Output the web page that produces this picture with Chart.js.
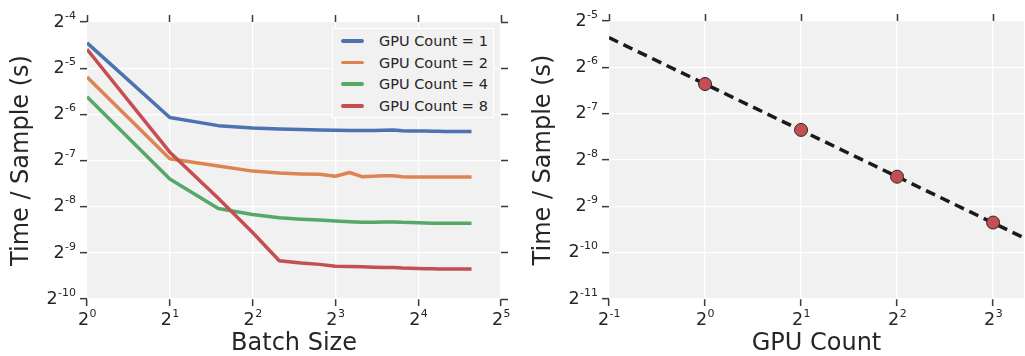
<!DOCTYPE html>
<html>
<head>
<meta charset="utf-8">
<script src="https://cdn.jsdelivr.net/npm/chart.js@4.4.0/dist/chart.umd.min.js"></script>
<style>
  html, body { margin: 0; padding: 0; background: #fff; }
  #wrap { position: relative; width: 1025px; height: 356px; overflow: hidden; font-family: "DejaVu Sans", sans-serif; }
  canvas { position: absolute; top: 0; }
  #left-chart { left: 0; }
  #right-chart { left: 512px; }
  #legend { position: absolute; left: 332px; top: 28px; width: 160px; height: 88px; background: #f1f1f1; border: 1px solid #fff; }
  #legend .row { position: absolute; left: 0; height: 20px; width: 160px; }
  #legend .swatch { position: absolute; left: 8px; top: 8px; width: 23px; height: 3.5px; border-radius: 2px; }
  #legend .label { position: absolute; left: 46px; top: 0; line-height: 20px; font-size: 14.5px; color: #262626; white-space: nowrap; }
</style>
</head>
<body>
<div id="wrap">
  <canvas id="left-chart" width="512" height="356"></canvas>
  <canvas id="right-chart" width="513" height="356"></canvas>
  <div id="legend"></div>
</div>
<script>
// left panel: time per sample vs batch size
var batchSizes = [1, 2, 3, 4, 5, 6, 7, 8, 9, 10, 11, 12, 13, 14, 15, 16, 17, 18, 19, 20, 21, 22, 23, 24, 25];
var gpu1Times = [0.04575, 0.014885, 0.013184, 0.012735, 0.012517, 0.012430, 0.012344, 0.012302, 0.012259, 0.012259,
  0.012259, 0.012302, 0.012344, 0.012217, 0.012174, 0.012174, 0.012174, 0.012132, 0.012132, 0.012090,
  0.012090, 0.012090, 0.012090, 0.012090, 0.012090];
var gpu2Times = [0.027394, 0.0080322, 0.0071889, 0.0066612, 0.0064790, 0.0063898, 0.0063457, 0.0061723, 0.0065241, 0.0061295,
  0.0061723, 0.0062152, 0.0062152, 0.0061295, 0.0061084, 0.0061084, 0.0060872, 0.0060872, 0.0060872, 0.0060872,
  0.0060872, 0.0060872, 0.0060872, 0.0060872, 0.0060872];
var gpu4Times = [0.020333, 0.0059208, 0.0037994, 0.0034720, 0.0033072, 0.0032395, 0.0031949, 0.0031509, 0.0031184, 0.0030968,
  0.0030968, 0.0031076, 0.0031076, 0.0030861, 0.0030755, 0.0030648, 0.0030542, 0.0030436, 0.0030436, 0.0030436,
  0.0030436, 0.0030436, 0.0030436, 0.0030436, 0.0030436];
var gpu8Times = [0.041521, 0.0088508, 0.0044254, 0.0026496, 0.0017360, 0.0016769, 0.0016424, 0.0015975, 0.0015919, 0.0015864,
  0.0015755, 0.0015700, 0.0015646, 0.0015538, 0.0015484, 0.0015431, 0.0015377, 0.0015377, 0.0015324, 0.0015324,
  0.0015324, 0.0015324, 0.0015324, 0.0015324, 0.0015324];
var seriesLabels = ["GPU Count = 1", "GPU Count = 2", "GPU Count = 4", "GPU Count = 8"];

var batchTicks = [1, 2, 4, 8, 16, 32];
var batchTickLabels = ["2^0", "2^1", "2^2", "2^3", "2^4", "2^5"];
var leftTimeTicks = [0.0009765625, 0.001953125, 0.00390625, 0.0078125, 0.015625, 0.03125, 0.0625];
var leftTimeTickLabels = ["2^-10", "2^-9", "2^-8", "2^-7", "2^-6", "2^-5", "2^-4"];

// right panel: time per sample vs GPU count (largest batch)
var gpuCounts = [1, 2, 4, 8];
var gpuTimes = [0.012174, 0.0061295, 0.0030436, 0.0015324];
var idealCounts = [0.5, 10];
var idealTimes = [0.024349, 0.0012191];

var gpuTicks = [0.5, 1, 2, 4, 8];
var gpuTickLabels = ["2^-1", "2^0", "2^1", "2^2", "2^3"];
var rightTimeTicks = [0.00048828125, 0.0009765625, 0.001953125, 0.00390625, 0.0078125, 0.015625, 0.03125];
var rightTimeTickLabels = ["2^-11", "2^-10", "2^-9", "2^-8", "2^-7", "2^-6", "2^-5"];

var titleFont = { family: "DejaVu Sans", size: 24, lineHeight: 1 };
var baseFont = "17.5px 'DejaVu Sans'";
var supFont = "11px 'DejaVu Sans'";
var textColor = "#262626";
var tickMarkColor = "#3a3a3a";

var areaBg = {
  id: "areaBg",
  beforeDraw: function (chart) {
    var a = chart.chartArea;
    var ctx = chart.ctx;
    ctx.save();
    ctx.fillStyle = "#f1f1f1";
    ctx.fillRect(a.left, a.top, a.right - a.left, a.bottom - a.top);
    ctx.restore();
  },
};

// tick labels as base + raised exponent, like matplotlib mathtext
function powerLabels(axes) {
  return {
    id: "powerLabels",
    afterDraw: function (chart) {
      var ctx = chart.ctx;
      ctx.save();
      ctx.fillStyle = textColor;
      ctx.textBaseline = "alphabetic";
      ctx.textAlign = "left";
      axes.forEach(function (ax) {
        var scale = chart.scales[ax.id];
        ax.values.forEach(function (v, i) {
          var parts = ax.labels[i].split("^");
          ctx.font = baseFont;
          var wb = ctx.measureText(parts[0]).width;
          ctx.font = supFont;
          var ws = ctx.measureText(parts[1]).width;
          var p = scale.getPixelForValue(v);
          var x0, y;
          if (scale.isHorizontal()) {
            x0 = p - (wb + ws) / 2;
            y = scale.top + 26;
          } else {
            x0 = scale.right - 11.5 - wb - ws;
            y = p + 4.7;
          }
          ctx.font = baseFont;
          ctx.fillText(parts[0], x0, y);
          ctx.font = supFont;
          ctx.fillText(parts[1], x0 + wb + 0.5, y - 8);
        });
      });
      ctx.restore();
    },
  };
}

function fixSize(size) {
  return function (scale) {
    if (scale.isHorizontal()) scale.height = size;
    else scale.width = size;
    scale.paddingLeft = 0;
    scale.paddingRight = 0;
    scale.paddingTop = 0;
    scale.paddingBottom = 0;
  };
}

function setTicks(values) {
  return function (scale) {
    scale.ticks = values.map(function (v) { return { value: v }; });
  };
}

function mainAxis(position, min, max, tickValues, size, title, titlePad) {
  return {
    type: "logarithmic",
    position: position,
    min: min,
    max: max,
    bounds: "data",
    afterBuildTicks: setTicks(tickValues),
    afterFit: fixSize(size),
    ticks: { display: false },
    grid: { color: "#ffffff", lineWidth: 1.3, tickColor: tickMarkColor, tickWidth: 1.5, tickLength: 7 },
    border: { display: false },
    title: { display: true, text: title, font: titleFont, color: textColor, padding: titlePad },
  };
}

function tickOnlyAxis(axis, position, min, max, tickValues, size) {
  return {
    type: "logarithmic",
    axis: axis,
    position: position,
    min: min,
    max: max,
    bounds: "data",
    afterBuildTicks: setTicks(tickValues),
    afterFit: fixSize(size),
    ticks: { display: false },
    grid: { drawOnChartArea: false, tickColor: tickMarkColor, tickWidth: 1.5, tickLength: 7 },
    border: { display: false },
  };
}

function toPoints(xs, ys) {
  return xs.map(function (x, i) { return { x: x, y: ys[i] }; });
}

var lineColors = ["#4C72B0", "#DD8452", "#55A868", "#C44E52"];
var leftSeries = [gpu1Times, gpu2Times, gpu4Times, gpu8Times];

var leftChart = new Chart(document.getElementById("left-chart").getContext("2d"), {
  type: "line",
  data: {
    datasets: leftSeries.map(function (ys, i) {
      return {
        label: seriesLabels[i],
        data: toPoints(batchSizes, ys),
        borderColor: lineColors[i],
        borderWidth: 3.5,
        pointRadius: 0,
        tension: 0,
        fill: false,
        borderJoinStyle: "round",
        order: 4 - i,
      };
    }),
  },
  options: {
    responsive: false,
    animation: false,
    layout: { padding: 0, autoPadding: false },
    plugins: { legend: { display: false }, tooltip: { enabled: false } },
    scales: {
      x: mainAxis("bottom", 1, 32, batchTicks, 57, "Batch Size", { top: 0, bottom: 0 }),
      y: mainAxis("left", leftTimeTicks[0], leftTimeTicks[6], leftTimeTicks, 87, "Time / Sample (s)", { top: 10, bottom: 0 }),
      xTop: tickOnlyAxis("x", "top", 1, 32, batchTicks, 22),
      yRight: tickOnlyAxis("y", "right", leftTimeTicks[0], leftTimeTicks[6], leftTimeTicks, 11),
    },
  },
  plugins: [
    areaBg,
    powerLabels([
      { id: "x", values: batchTicks, labels: batchTickLabels },
      { id: "y", values: leftTimeTicks, labels: leftTimeTickLabels },
    ]),
  ],
});

var rightChart = new Chart(document.getElementById("right-chart").getContext("2d"), {
  type: "line",
  data: {
    datasets: [
      {
        label: "Measured",
        data: toPoints(gpuCounts, gpuTimes),
        showLine: false,
        pointRadius: 6.5,
        pointBackgroundColor: "#C44E52",
        pointBorderColor: "#2a2a2a",
        pointBorderWidth: 1,
      },
      {
        label: "Ideal",
        data: toPoints(idealCounts, idealTimes),
        borderColor: "#1a1a1a",
        borderWidth: 3.5,
        borderDash: [10, 6],
        pointRadius: 0,
        tension: 0,
        fill: false,
      },
    ],
  },
  options: {
    responsive: false,
    animation: false,
    layout: { padding: { right: 1 }, autoPadding: false },
    plugins: { legend: { display: false }, tooltip: { enabled: false } },
    scales: {
      x: mainAxis("bottom", 0.5, 10, gpuTicks, 57, "GPU Count", { top: 0, bottom: 0 }),
      y: mainAxis("left", rightTimeTicks[0], rightTimeTicks[6], rightTimeTicks, 97, "Time / Sample (s)", { top: 20, bottom: 0 }),
      xTop: tickOnlyAxis("x", "top", 0.5, 10, gpuTicks, 21),
    },
  },
  plugins: [
    areaBg,
    powerLabels([
      { id: "x", values: gpuTicks, labels: gpuTickLabels },
      { id: "y", values: rightTimeTicks, labels: rightTimeTickLabels },
    ]),
  ],
});

// legend inside the left panel
var legend = document.getElementById("legend");
seriesLabels.forEach(function (text, i) {
  var row = document.createElement("div");
  row.className = "row";
  row.style.top = (2 + i * 21.7) + "px";
  var sw = document.createElement("span");
  sw.className = "swatch";
  sw.style.background = lineColors[i];
  var lab = document.createElement("span");
  lab.className = "label";
  lab.textContent = text;
  row.appendChild(sw);
  row.appendChild(lab);
  legend.appendChild(row);
});
</script>
</body>
</html>
